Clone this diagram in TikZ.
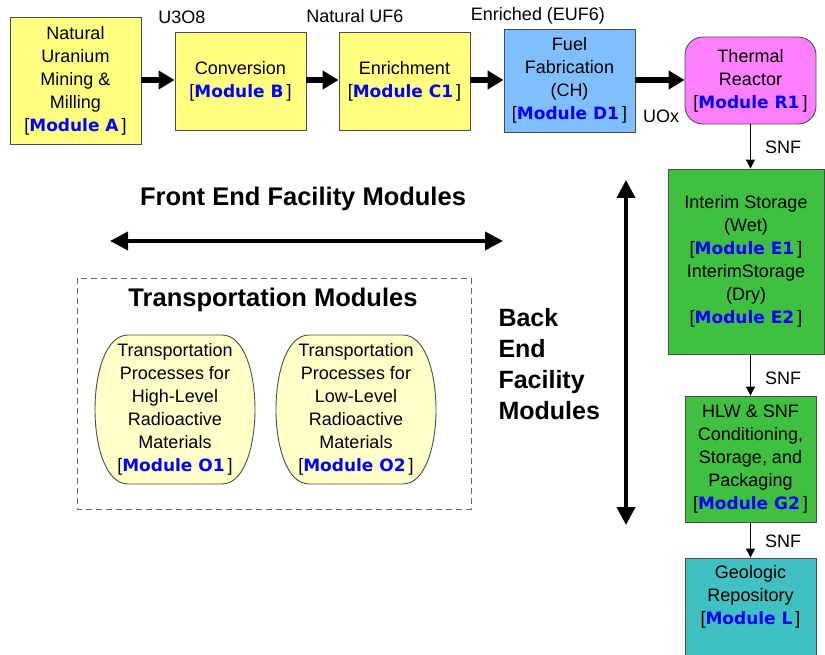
\documentclass[tikz,border=0pt]{standalone}
\usepackage{fontspec}
\setmainfont{Liberation Sans}
\newfontfamily\tagfont{DejaVu Sans}
\usetikzlibrary{arrows.meta}

\definecolor{millyellow}{HTML}{FFFF80}
\definecolor{fabblue}{HTML}{80BFFF}
\definecolor{reactorpink}{HTML}{FF80FF}
\definecolor{storegreen}{HTML}{40C040}
\definecolor{repoteal}{HTML}{40C0C0}
\definecolor{transyellow}{HTML}{FFFFC8}
\definecolor{modblue}{HTML}{0000FF}

\newcommand{\modtag}[1]{[\textcolor{modblue}{\tagfont\bfseries\fontsize{17}{23}\selectfont Module #1}\,]}

\tikzset{
	fcbox/.style={draw=black!70, line width=0.9pt, align=center, inner sep=0pt,
		font=\fontsize{18}{23}\selectfont},
	bigflow/.style={line width=5.5pt, -{Triangle[length=16pt,width=18pt]}},
	snfflow/.style={line width=1.1pt, -{Triangle[length=9pt,width=9pt]}},
	spanarrow/.style={line width=4pt, {Triangle[length=18pt,width=18pt]}-{Triangle[length=18pt,width=18pt]}},
	flowlabel/.style={font=\fontsize{18}{20}\selectfont},
	headline/.style={font=\fontsize{25.5}{28}\bfseries\selectfont}
}

\begin{document}
\begin{tikzpicture}[x=1pt,y=-1pt]
	\useasboundingbox (0,0) rectangle (825,655);
	
	\node[fcbox, fill=millyellow, minimum width=131, minimum height=127] (A) at (75.5,80.5) {Natural\\Uranium\\Mining \&\\Milling\\\modtag{A}};
	\node[fcbox, fill=millyellow, minimum width=131, minimum height=98] (B) at (240.5,81) {Conversion\\\modtag{B}};
	\node[fcbox, fill=millyellow, minimum width=131, minimum height=98] (C1) at (404.5,81) {Enrichment\\\modtag{C1}};
	\node[fcbox, fill=fabblue, minimum width=131, minimum height=103] (D1) at (569.5,80.5) {Fuel\\Fabrication\\(CH)\\\modtag{D1}};
	\node[fcbox, fill=reactorpink, rounded corners=18pt, minimum width=131, minimum height=87] (R1) at (750.5,80.5) {Thermal\\Reactor\\\modtag{R1}};
	
	\draw[bigflow] (A.east |- 0,80) -- (B.west |- 0,80);
	\draw[bigflow] (B.east |- 0,80) -- (C1.west |- 0,80);
	\draw[bigflow] (C1.east |- 0,80) -- (D1.west |- 0,80);
	\draw[bigflow] (D1.east |- 0,80) -- (R1.west |- 0,80);
	\node[flowlabel] (u3o8) at (182,17) {U3O8};
	\node[flowlabel] (natuf6) at (355,16) {Natural UF6};
	\node[flowlabel] (euf6) at (538,16) {Enriched (EUF6)};
	\node[flowlabel] (uox) at (661,116) {UOx};
	
	\node[fcbox, fill=storegreen, minimum width=156, minimum height=185] (E) at (746,261.5) {Interim Storage\\(Wet)\\\modtag{E1}\\InterimStorage\\(Dry)\\\modtag{E2}};
	\node[fcbox, fill=storegreen, minimum width=131, minimum height=126] (G2) at (750.5,459) {HLW \& SNF\\Conditioning,\\Storage, and\\Packaging\\\modtag{G2}};
	\node[fcbox, fill=repoteal, minimum width=131, minimum height=110] (L) at (750.5,613) {};
	\node[fcbox, draw=none, anchor=north] (Ltext) at ([yshift=-7pt]L.north) {Geologic\\Repository\\\modtag{L}};
	
	\draw[snfflow] (R1.south) -- (R1.south |- E.north);
	\draw[snfflow] (E.south -| G2.north) -- (G2.north);
	\draw[snfflow] (G2.south) -- (L.north);
	\node[flowlabel] (snf1) at (783,147) {SNF};
	\node[flowlabel] (snf2) at (783,378) {SNF};
	\node[flowlabel] (snf3) at (783,541) {SNF};
	
	\node[headline] (front) at (303,199) {Front End Facility Modules};
	\coordinate (frontL) at (110,241);
	\coordinate (frontR) at (503,241);
	\draw[spanarrow] (frontL) -- (frontR);
	
	\coordinate (backT) at (626,180);
	\coordinate (backB) at (626,525);
	\draw[spanarrow] (backT) -- (backB);
	\node[font=\fontsize{25}{31}\bfseries\selectfont, align=left, anchor=west] (back) at (495,364) {Back\\End\\Facility\\Modules};
	
	\draw[draw=black!60, line width=0.9pt, dash pattern=on 6pt off 4pt] (77,278) rectangle (471,509);
	\node[headline] (trans) at (273,300) {Transportation Modules};
	
	\draw[draw=black!70, line width=0.9pt, fill=transyellow] (128,335) -- (222,335) .. controls (266,335) and (266,484) .. (222,484) -- (128,484) .. controls (84,484) and (84,335) .. cycle;
	\draw[draw=black!70, line width=0.9pt, fill=transyellow] (309,335) -- (403,335) .. controls (447,335) and (447,484) .. (403,484) -- (309,484) .. controls (265,484) and (265,335) .. cycle;
	\node[fcbox, draw=none] (O1) at (175,409.5) {Transportation\\Processes for\\High-Level\\Radioactive\\Materials\\\modtag{O1}};
	\node[fcbox, draw=none] (O2) at (356,409.5) {Transportation\\Processes for\\Low-Level\\Radioactive\\Materials\\\modtag{O2}};
	
\end{tikzpicture}
\end{document}
